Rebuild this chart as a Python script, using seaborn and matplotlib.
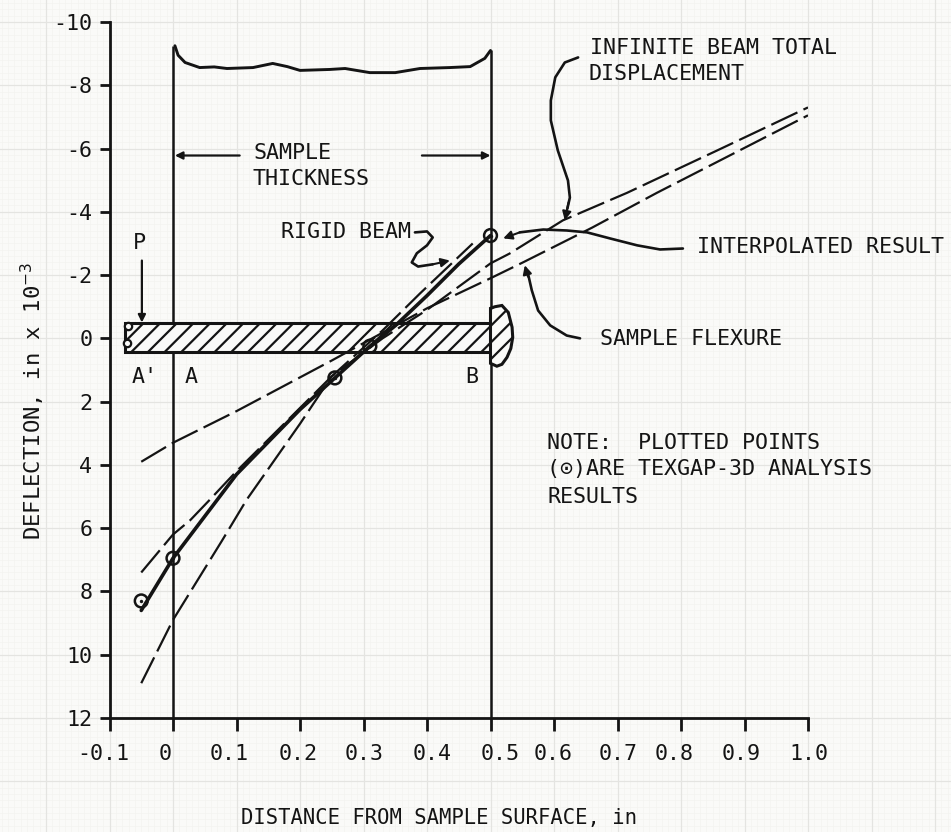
import matplotlib
matplotlib.use("Agg")
import matplotlib.pyplot as plt
from matplotlib.patches import Rectangle
from matplotlib.transforms import ScaledTranslation
import numpy as np
import seaborn as sns

# ---- data ----
x_ticks = [-0.1, 0, 0.1, 0.2, 0.3, 0.4, 0.5, 0.6, 0.7, 0.8, 0.9, 1.0]
x_tick_labels = ["-0.1", "0", "0.1", "0.2", "0.3", "0.4", "0.5", "0.6", "0.7", "0.8", "0.9", "1.0"]
y_ticks = [-10, -8, -6, -4, -2, 0, 2, 4, 6, 8, 10, 12]
y_tick_labels = ["-10", "-8", "-6", "-4", "-2", "0", "2", "4", "6", "8", "10", "12"]
x_label_shift_px = [-6, -8, -7, -2, 1, 5, 10, -1, 1, -7, -3, 1]

interp_x = [-0.05, 0, 0.1, 0.2, 0.255, 0.31, 0.35, 0.4, 0.45, 0.5]
interp_y = [8.6, 6.95, 4.3, 2.25, 1.25, 0.25, -0.4, -1.35, -2.35, -3.25]
points_x = [-0.05, 0, 0.255, 0.31, 0.5]
points_y = [8.3, 6.95, 1.25, 0.25, -3.25]
end_points_x = [-0.071, -0.072]
end_points_y = [-0.38, 0.16]

rigid_x = [-0.05, 0, 0.077, 0.116, 0.2, 0.25, 0.33, 0.389, 0.472]
rigid_y = [10.9, 8.9, 6.4, 5.1, 2.7, 1.2, -0.25, -1.42, -3.0]

total_x = [-0.05, 0, 0.027, 0.058, 0.1, 0.25, 0.33, 0.4, 0.5, 0.53, 0.614, 0.715, 0.857, 1.0]
total_y = [7.4, 6.2, 5.75, 5.1, 4.2, 1.2, 0.0, -0.9, -2.37, -2.68, -3.73, -4.6, -5.94, -7.3]

flex_x = [-0.05, 0, 0.1, 0.25, 0.4, 0.5, 0.551, 0.66, 0.762, 1.0]
flex_y = [3.9, 3.3, 2.3, 0.7, -0.95, -1.9, -2.4, -3.5, -4.6, -7.05]

wave_x = [0.003, 0.008, 0.019, 0.042, 0.065, 0.085, 0.126, 0.157, 0.18, 0.2, 0.247, 0.271, 0.31, 0.35, 0.389, 0.436, 0.468, 0.491, 0.5]
wave_y = [-9.25, -8.95, -8.72, -8.56, -8.58, -8.53, -8.56, -8.69, -8.59, -8.47, -8.5, -8.53, -8.4, -8.4, -8.53, -8.56, -8.59, -8.85, -9.1]

beam_left, beam_right, beam_top, beam_bottom = -0.075, 0.5, -0.47, 0.44
cap_x = [0.5, 0.507, 0.518, 0.528, 0.534, 0.535, 0.532, 0.526, 0.518, 0.51, 0.5]
cap_y = [-0.95, -1.0, -1.04, -0.82, -0.35, -0.03, 0.32, 0.6, 0.82, 0.88, 0.79]

lead_infinite = ([0.638, 0.617, 0.602, 0.595, 0.595, 0.606, 0.622, 0.625, 0.621], [-8.88, -8.72, -8.25, -7.52, -6.89, -5.94, -4.99, -4.45, -4.1])
head_infinite = ((0.623, -4.3), (0.617, -3.73))
lead_interp = ([0.803, 0.767, 0.731, 0.688, 0.652, 0.62, 0.583, 0.546], [-2.84, -2.81, -2.94, -3.16, -3.35, -3.41, -3.44, -3.35])
head_interp = ((0.546, -3.35), (0.52, -3.16))
lead_flex = ([0.641, 0.62, 0.594, 0.575, 0.565, 0.559], [0.0, -0.09, -0.41, -0.88, -1.52, -2.05])
head_flex = ((0.559, -1.95), (0.554, -2.31))
lead_rigid = ([0.381, 0.4, 0.409, 0.4, 0.384, 0.376, 0.386, 0.409], [-3.35, -3.38, -3.19, -2.94, -2.69, -2.4, -2.27, -2.34])
head_rigid = ((0.409, -2.34), (0.436, -2.46))

paper_fine_x = np.arange(-0.27, 1.24, 0.01)
paper_fine_y = np.arange(-10.6, 15.8, 0.2)
paper_major_x = np.arange(-0.2, 1.3, 0.1)
paper_major_y = np.arange(-10, 16, 2)

labels = [
    ("INFINITE BEAM TOTAL", 0.657, -9.18),
    ("DISPLACEMENT", 0.655, -8.36),
    ("SAMPLE", 0.126, -5.87),
    ("THICKNESS", 0.125, -5.05),
    ("P", -0.063, -3.02),
    ("RIGID BEAM", 0.170, -3.35),
    ("INTERPOLATED RESULT", 0.825, -2.9),
    ("SAMPLE FLEXURE", 0.672, 0.03),
    ("A'", -0.065, 1.23),
    ("A", 0.019, 1.23),
    ("B", 0.46, 1.23),
    ("NOTE:  PLOTTED POINTS", 0.589, 3.3),
    ("(\u2299)ARE TEXGAP-3D ANALYSIS", 0.589, 4.14),
    ("RESULTS", 0.589, 5.0),
]

# ---- figure ----
sns.set_theme(style="white")
plt.rcParams["font.family"] = ["DejaVu Sans Mono", "DejaVu Sans"]
plt.rcParams["mathtext.fontset"] = "dejavusans"
plt.rcParams["hatch.linewidth"] = 1.6
paper = "#fafaf8"
ink = "#141414"
plt.rcParams["hatch.color"] = ink

fig = plt.figure(figsize=(9.51, 8.32), dpi=100, facecolor=paper)
ax = fig.add_axes([109.5 / 951, 1 - 718 / 832, (808 - 109.5) / 951, (718 - 22) / 832], facecolor=paper)
ax.set_xlim(-0.1, 1.0)
ax.set_ylim(12, -10)

# graph paper
ax.vlines(paper_fine_x, -11, 15.8, color="#f3f3f0", lw=0.5, clip_on=False, zorder=0)
ax.hlines(paper_fine_y, -0.28, 1.25, color="#f3f3f0", lw=0.5, clip_on=False, zorder=0)
ax.vlines(paper_major_x, -11, 15.8, color="#e4e4e1", lw=0.9, clip_on=False, zorder=0)
ax.hlines(paper_major_y, -0.28, 1.25, color="#e4e4e1", lw=0.9, clip_on=False, zorder=0)

# sample verticals and the wavy top
ax.vlines([0], wave_y[0], 12, color=ink, lw=1.8, zorder=2)
ax.vlines([0.5], wave_y[-1], 12, color=ink, lw=1.8, zorder=2)
sns.lineplot(x=wave_x, y=wave_y, ax=ax, color=ink, lw=2.1, sort=False, errorbar=None, estimator=None)

# beam
ax.add_patch(Rectangle((beam_left, beam_top), beam_right - beam_left, beam_bottom - beam_top,
                       facecolor=paper, edgecolor=ink, hatch="//", lw=2.2, zorder=3))
ax.fill(cap_x, cap_y, facecolor=paper, edgecolor=ink, hatch="//", lw=2.2, zorder=3)
sns.scatterplot(x=end_points_x, y=end_points_y, ax=ax, s=28, facecolor=paper, edgecolor=ink, linewidth=1.6, zorder=6)

# curves
sns.lineplot(x=interp_x, y=interp_y, ax=ax, color=ink, lw=2.6, sort=False, errorbar=None, estimator=None, zorder=5)
for cx, cy in [(rigid_x, rigid_y), (total_x, total_y), (flex_x, flex_y)]:
    sns.lineplot(x=cx, y=cy, ax=ax, color=ink, lw=1.6, linestyle=(0, (13, 3)), sort=False,
                 errorbar=None, estimator=None, zorder=4)
sns.scatterplot(x=points_x, y=points_y, ax=ax, s=85, facecolor="none", edgecolor=ink, linewidth=1.8, zorder=6)
sns.scatterplot(x=points_x, y=points_y, ax=ax, s=6, color=ink, linewidth=0, zorder=6)

# leaders
for (lx, ly), (start, end) in [(lead_infinite, head_infinite), (lead_interp, head_interp),
                               (lead_flex, head_flex), (lead_rigid, head_rigid)]:
    sns.lineplot(x=lx, y=ly, ax=ax, color=ink, lw=1.9, sort=False, errorbar=None, estimator=None, zorder=5)
    ax.annotate("", xy=end, xytext=start,
                arrowprops=dict(arrowstyle="-|>", color=ink, lw=1.5, mutation_scale=13, shrinkA=0, shrinkB=0), zorder=5)

arrow = dict(arrowstyle="-|>", color=ink, lw=1.6, mutation_scale=11, shrinkA=0, shrinkB=0)
ax.annotate("", xy=(-0.049, -0.5), xytext=(-0.049, -2.46), arrowprops=arrow)
ax.annotate("", xy=(0.003, -5.78), xytext=(0.105, -5.78), arrowprops=arrow)
ax.annotate("", xy=(0.5, -5.78), xytext=(0.392, -5.78), arrowprops=arrow)

for text, tx, ty in labels:
    ax.text(tx, ty, text, fontsize=15.6, color=ink, va="center", ha="left", zorder=7)

# axes
for side in ["top", "right"]:
    ax.spines[side].set_visible(False)
for side in ["left", "bottom"]:
    ax.spines[side].set_linewidth(2)
    ax.spines[side].set_color(ink)
ax.set_xticks(x_ticks, x_tick_labels, fontsize=15.6, color=ink)
ax.set_yticks(y_ticks, y_tick_labels, fontsize=15.6, color=ink)
ax.tick_params(axis="x", direction="out", length=9, width=2, color=ink, pad=10, bottom=True)
ax.tick_params(axis="y", direction="out", length=7.5, width=2, color=ink, pad=5, left=True)
for lab, dx in zip(ax.get_xticklabels(), x_label_shift_px):
    lab.set_transform(lab.get_transform() + ScaledTranslation(dx / 100, 0, fig.dpi_scale_trans))
ax.set_xlabel("DISTANCE FROM SAMPLE SURFACE, in", fontsize=14.8, color=ink, va="center")
ax.xaxis.set_label_coords(0.4717, -0.1437)
ax.set_ylabel("DEFLECTION, in x 10$^{-3}$", fontsize=16, color=ink, va="center")
ax.yaxis.set_label_coords(-0.11, 0.455)

fig.savefig("out.png", dpi=100, facecolor=paper)
